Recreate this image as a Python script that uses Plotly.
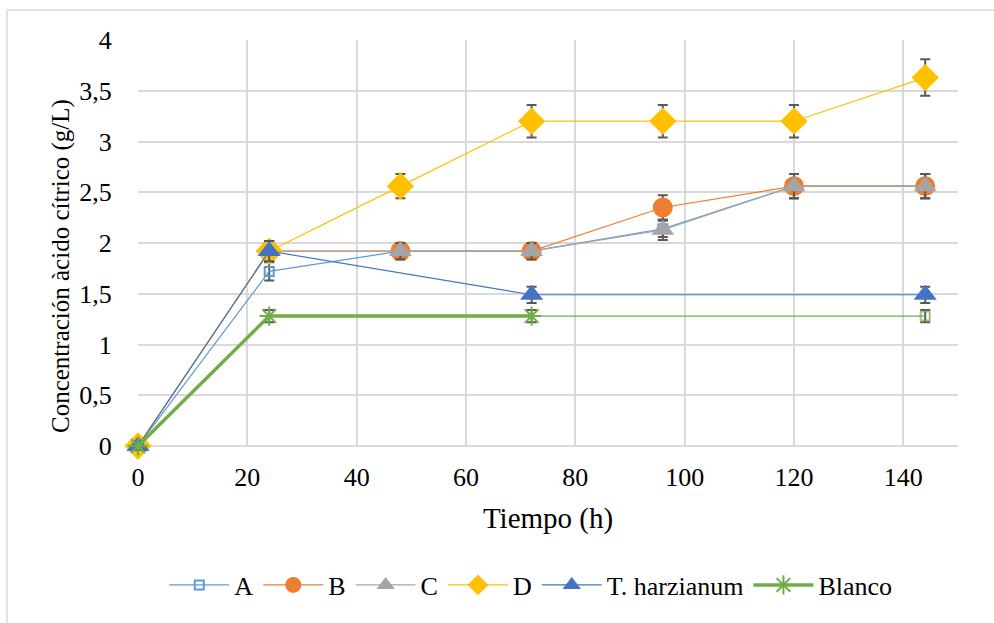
import plotly.graph_objects as go

t_full = [0, 24, 48, 72, 96, 120, 144]
A = [0, 1.72, 1.92, 1.92, 2.14, 2.56, 2.56]
A_err = [0, 0.09, 0.08, 0.08, 0.08, 0.12, 0.12]
B = [0, 1.92, 1.92, 1.92, 2.35, 2.56, 2.56]
B_err = [0, 0.1, 0.08, 0.08, 0.12, 0.12, 0.12]
C = [0, 1.92, 1.92, 1.92, 2.13, 2.56, 2.56]
C_err = [0, 0.1, 0.08, 0.08, 0.1, 0.12, 0.12]
D = [0, 1.92, 2.56, 3.2, 3.2, 3.2, 3.63]
D_err = [0, 0.08, 0.12, 0.16, 0.16, 0.16, 0.18]
t_th = [0, 24, 72, 144]
TH = [0, 1.92, 1.49, 1.49]
TH_err = [0, 0.1, 0.08, 0.08]
t_bl = [0, 24, 72]
BL = [0, 1.28, 1.28]
BL_err = [0, 0.06, 0.06]
t_bl2 = [72, 144]
BL2 = [1.28, 1.28]
BL2_err = [0, 0.06]

ERR = "#595959"
FONT = "Liberation Serif"

def eb(arr):
    return dict(type="data", array=arr, visible=True, color=ERR, thickness=2, width=5)

fig = go.Figure()
fig.add_trace(go.Scatter(x=t_full, y=A, name="A", mode="lines+markers", cliponaxis=False,
    line=dict(color="#5B9BD5", width=1.2),
    marker=dict(symbol="square-open", size=9, color="#5B9BD5", line=dict(width=2)),
    error_y=eb(A_err)))
fig.add_trace(go.Scatter(x=t_full, y=B, name="B", mode="lines+markers", cliponaxis=False,
    line=dict(color="#ED7D31", width=1.2),
    marker=dict(symbol="circle", size=20, color="#ED7D31"),
    error_y=eb(B_err)))
fig.add_trace(go.Scatter(x=t_full, y=C, name="C", mode="lines+markers", cliponaxis=False,
    line=dict(color="#A5A5A5", width=1.2),
    marker=dict(symbol="triangle-up", size=20, color="#A5A5A5"),
    error_y=eb(C_err)))
fig.add_trace(go.Scatter(x=t_full, y=D, name="D", mode="lines+markers", cliponaxis=False,
    line=dict(color="#FFC000", width=1.2),
    marker=dict(symbol="diamond", size=21, color="#FFC000"),
    error_y=eb(D_err)))
fig.add_trace(go.Scatter(x=t_th, y=TH, name="T. harzianum", mode="lines+markers", cliponaxis=False,
    line=dict(color="#4472C4", width=1.2),
    marker=dict(symbol="triangle-up", size=20, color="#4472C4"),
    error_y=eb(TH_err)))
fig.add_trace(go.Scatter(x=t_bl2, y=BL2, name="Blanco2", mode="lines+markers", showlegend=False,
    cliponaxis=False,
    line=dict(color="#70AD47", width=1.2),
    marker=dict(symbol=["line-ew", "square-open"], size=[1, 9], color="#70AD47",
                line=dict(width=2, color="#70AD47")),
    error_y=eb(BL2_err)))
fig.add_trace(go.Scatter(x=t_bl, y=BL, name="Blanco", mode="lines+markers", cliponaxis=False,
    line=dict(color="#70AD47", width=3.5),
    marker=dict(symbol="asterisk-open", size=16, color="#70AD47",
                line=dict(width=2, color="#70AD47")),
    error_y=eb(BL_err)))

px_x = lambda p: (p - 138) / 820
px_y = lambda p: (446 - p) / 406
fig.add_shape(type="rect", xref="paper", yref="paper",
    x0=px_x(7), y0=px_y(640), x1=px_x(1010), y1=px_y(10),
    line=dict(color="#D9D9D9", width=1.5), layer="below")

fig.add_annotation(text="Concentración àcido cítrico (g/L)", xref="paper", yref="paper",
    x=px_x(61), y=px_y(266), xanchor="center", yanchor="middle", textangle=-90,
    showarrow=False, font=dict(family=FONT, size=25, color="#000000"))

fig.update_layout(
    width=994, height=623,
    margin=dict(l=138, r=36, t=40, b=177),
    paper_bgcolor="white", plot_bgcolor="white",
    separators=", ",
    font=dict(family=FONT, size=26, color="#000000"),
    showlegend=True,
    legend=dict(orientation="h", x=0.479, xanchor="center", y=px_y(585), yanchor="middle",
                font=dict(family=FONT, size=26), itemwidth=60, traceorder="normal"),
    xaxis=dict(range=[0, 150], tickmode="array", tickvals=[0, 20, 40, 60, 80, 100, 120, 140],
               showgrid=True, gridcolor="#D9D9D9", gridwidth=1.5, zeroline=False,
               showline=False, ticks="outside", ticklen=8, tickcolor="rgba(0,0,0,0)",
               tickfont=dict(family=FONT, size=26),
               title=dict(text="Tiempo (h)", font=dict(family=FONT, size=29), standoff=16)),
    yaxis=dict(range=[0, 4], tickmode="array", tickvals=[0, 0.5, 1, 1.5, 2, 2.5, 3, 3.5, 4],
               ticktext=["0", "0,5", "1", "1,5", "2", "2,5", "3", "3,5", "4"],
               showgrid=True, gridcolor="#D9D9D9", gridwidth=1.5, zeroline=True,
               zerolinecolor="#D9D9D9", zerolinewidth=1.5,
               showline=False, ticks="outside", ticklen=20, tickcolor="rgba(0,0,0,0)",
               tickfont=dict(family=FONT, size=26)),
)
fig.write_html("out.html")
